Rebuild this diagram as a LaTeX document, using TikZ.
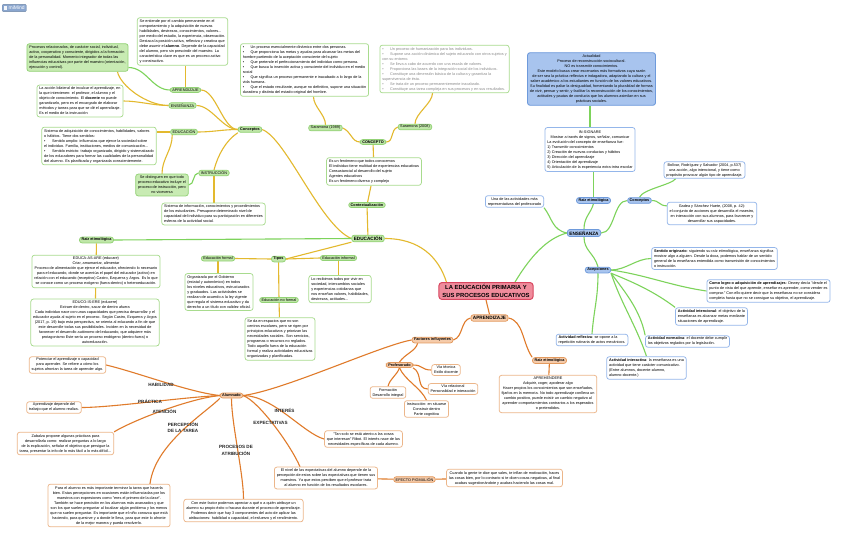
\documentclass[tikz,border=0pt]{standalone}
\usepackage{fontspec}
\setmainfont{Liberation Sans}
\usetikzlibrary{calc}
\definecolor{cYel}{HTML}{E3B92E}
\definecolor{cGrn}{HTML}{7DD35B}
\definecolor{cOrg}{HTML}{E07B2B}
\definecolor{gBd}{HTML}{A8DB8E}
\definecolor{gNd}{HTML}{93D276}
\definecolor{gNf}{HTML}{BFE6A8}
\definecolor{gFill}{HTML}{C8EBB3}
\definecolor{bBd}{HTML}{94B6EA}
\definecolor{bNd}{HTML}{6E9ADB}
\definecolor{bNf}{HTML}{A8C4EE}
\definecolor{oBd}{HTML}{ECB68A}
\definecolor{oNd}{HTML}{E39A5E}
\definecolor{oNf}{HTML}{F5CBAA}
\definecolor{mBd}{HTML}{D8465F}
\definecolor{mFl}{HTML}{F08C9C}
\definecolor{cGray}{HTML}{8A8A8A}
\definecolor{cLogo}{HTML}{8AA6CF}
\newcommand\tx{\fontsize{3.8}{5}\selectfont}
\newcommand\lbf{\fontsize{3.8}{4.4}\selectfont}
\newcommand\bigf{\fontsize{4.7}{5.4}\selectfont\bfseries}
\newcommand\mainfnt{\fontsize{5.9}{7.2}\selectfont\bfseries}
\newcommand\elf{\fontsize{4.6}{6.8}\selectfont\bfseries}
\newcommand\conn[5]{\draw[#1] (#2) .. controls ($(#2)+(#3)$) and ($(#4)+(#5)$) .. (#4);}
\newcommand\bulx{\textbullet\hspace{3.5pt}}
\pgfdeclarelayer{bg}
\pgfdeclarelayer{edges}
\pgfsetlayers{bg,edges,main}
\tikzset{
 tbox/.style={draw=gBd, fill=white, line width=0.75pt, rounded corners=2.5pt, inner xsep=2.4pt, inner ysep=2pt, font=\tx, align=left},
 gtb/.style={tbox},
 gtbf/.style={tbox, fill=gFill, draw=gNd},
 btb/.style={tbox, draw=bBd},
 otb/.style={tbox, draw=oBd},
 snode/.style={draw=gNd, fill=gNf, line width=0.75pt, rounded corners=2.5pt, inner xsep=2pt, inner ysep=1.1pt, font=\lbf},
 gsn/.style={snode},
 bsn/.style={snode, draw=bNd, fill=bNf},
 osn/.style={snode, draw=oNd, fill=oNf},
 ylw/.style={draw=cYel, line width=1.1pt},
 grn/.style={draw=cGrn, line width=1.1pt},
 org/.style={draw=cOrg, line width=1.1pt},
 elab/.style={font=\elf, align=center, inner sep=0pt, text=black!85}
}
\begin{document}
\begin{tikzpicture}[x=1pt, y=-1pt, line cap=round]
\useasboundingbox (0,0) rectangle (848,544);
\begin{pgfonlayer}{bg}
\fill[white] (0,0) rectangle (848,544);
\end{pgfonlayer}

\node[fill=cLogo, draw=cLogo!80!black, line width=0.3pt, rounded corners=1pt, text=white, font=\fontsize{5}{5.5}\selectfont, inner xsep=1.5pt, inner ysep=1.6pt, anchor=west] (logo) at (2,8) {\textcolor{white!90!cLogo}{\rule{3.5pt}{4pt}}\hspace{1.5pt}miMind};

% ---------- GREEN / EDUCACION ----------
\node[gtb] (boxA) at (182.5,41.5) {Se entiende por el cambio permanente en el\\comportamiento y la adquisición de nuevas\\habilidades, destrezas, conocimientos, valores...\\por medio del estudio, la experiencia, observación.\\Destaca la posición activa, reflexiva y creativa que\\debe asumir el \textbf{alumno}. Depende de la capacidad\\del alumno, pero sin prescindir del maestro. La\\característica clave es que es un proceso activo\\y constructivo.};
\node[gtbf] (boxB) at (77.5,57.5) {Procesos relacionados, de carácter social, individual,\\activo, cooperativo y consciente, dirigidos a la formación\\de la personalidad. Momento integrador de todas las\\influencias educativas por parte del maestro (orientación,\\ejecución y control).};
\node[gsn] (aprG) at (185.5,90) {APRENDIZAJE};
\node[gsn] (ensG) at (182.5,105.5) {ENSEÑANZA};
\node[gtb] (boxC) at (80,101) {La acción bilateral de inculcar el aprendizaje, en\\la que intervienen: el profesor, el alumno y el\\objeto de conocimiento. El \textbf{docente} no puede\\garantizarlo, pero es el encargado de elaborar\\métodos y tareas para que se dé el aprendizaje.\\Es el medio de la instrucción};
\node[gsn] (eduG) at (184,132) {EDUCACIÓN};
\node[gtb] (boxD) at (99,146) {Sistema de adquisición de conocimientos, habilidades, valores\\o hábitos. Tiene dos sentidos:\\\bulx\hspace{3pt}Sentido amplio: influencias que ejerce la sociedad sobre\\el individuo. Familia, instituciones, medios de comunicación...\\\bulx\hspace{3pt}Sentido estricto: trabajo organizado, dirigido y sistematizado\\de los educadores para formar las cualidades de la personalidad\\del alumno. Es planificada y organizada conscientemente.};
\node[gsn, font=\lbf\bfseries] (concG) at (250,129.5) {Conceptos};
\node[gsn] (instr) at (214,173) {INSTRUCCIÓN};
\node[gtbf, align=center] (boxE) at (162,185) {Se distinguen en que todo\\proceso educativo incluye el\\proceso de instrucción, pero\\no viceversa};
\node[gtb] (boxF) at (213.5,214) {Sistema de información, conocimientos y procedimientos\\de los estudiantes. Presupone determinado nivel de\\capacidad del individuo para su participación en diferentes\\esferas de la actividad social.};
\node[gsn, font=\lbf\bfseries] (raizG) at (96.5,240) {Raíz etimológica};
\node[gtb, align=center] (boxG) at (96,271.5) {EDUCA-AS-ARE (educare)\\Criar, amamantar, alimentar\\Proceso de alimentación que ejerce el educador, ofreciendo lo necesario\\para el educando, donde se acentúa el papel del educador (activo) en\\relación con el educando (receptivo) Castro, Ezquerra y Argos. Es lo que\\se conoce como un proceso exógeno (fuera-dentro) o heteroeducación.};
\node[gtb, align=center] (boxH) at (95,322.5) {EDUCO-IS-ERE (educere)\\Extraer de dentro, sacar de dentro afuera\\Cada individuo nace con unas capacidades que precisa desarrollar y el\\educador ayuda al sujeto en el proceso. Según Castro, Ezquerra y Argos\\(2017, p. 19) bajo esta perspectiva, se orienta al educando a fin de que\\este desarrolle todas sus posibilidades. Inciden en la necesidad de\\favorecer el desarrollo autónomo del educando, que adquiere más\\protagonismo Este sería un proceso endógeno (dentro-fuera) o\\autoeducación.};
\node[gsn, font=\bigf, inner ysep=1.2pt] (edu) at (368,238.5) {EDUCACIÓN};
\node[gsn, font=\lbf\bfseries] (ctx) at (367,205) {Contextualización};
\node[gtb] (boxI) at (374,171.5) {Es un fenómeno que todos conocemos\\El individuo tiene multitud de experiencias educativas\\Consustancial al desarrollo del sujeto\\Agentes educativos\\Es un fenómeno diverso y complejo};
\node[gsn, font=\lbf\bfseries] (concepto) at (373,142) {CONCEPTO};
\node[gsn] (sar89) at (325.5,128) {Saramona (1989)};
\node[gsn] (sar08) at (415,127) {Saramona (2008)};
\node[gtb] (boxJ) at (304.5,70) {\bulx\hspace{3pt}Un proceso esencialmente dinámico entre dos personas.\\\bulx\hspace{3pt}Que proporciona las metas y ayudas para alcanzar las metas del\\hombre partiendo de la aceptación consciente del sujeto\\\bulx\hspace{3pt}Que pretende el perfeccionamiento del individuo como persona.\\\bulx\hspace{3pt}Que busca la inserción activa y consciente del individuo en el medio\\social\\\bulx\hspace{3pt}Que significa un proceso permanente e inacabado a lo largo de la\\vida humana.\\\bulx\hspace{3pt}Que el estado resultante, aunque no definitivo, supone una situación\\duradera y distinta del estado original del hombre.};
\node[gtb, text=cGray] (boxK) at (444.5,69) {\bulx\hspace{3pt}Un proceso de humanización para los individuos.\\\bulx\hspace{3pt}Supone una acción dinámica del sujeto educando con otros sujetos y\\con su entorno.\\\bulx\hspace{3pt}Se lleva a cabo de acuerdo con una escala de valores.\\\bulx\hspace{3pt}Proporciona las bases de la integración social de los individuos.\\\bulx\hspace{3pt}Constituye una dimensión básica de la cultura y garantiza la\\supervivencia de ésta.\\\bulx\hspace{3pt}Se trata de un proceso permanentemente inacabado.\\\bulx\hspace{3pt}Constituye una tarea compleja en sus procesos y en sus resultados.};
\node[gsn, font=\lbf\bfseries] (tipos) at (278.5,259) {Tipos};
\node[gsn] (edF) at (218,258.5) {Educación formal};
\node[gsn] (edI) at (338.5,258) {Educación informal};
\node[gtb] (boxL) at (219,292) {Organizada por el Gobierno\\(estatal y autonómico) en todos\\los niveles educativos, estructurados\\y graduados. Las actividades se\\realizan de acuerdo a la ley vigente\\que regula el sistema educativo y da\\derecho a un título con validez oficial.};
\node[gtb] (boxM) at (340,289) {Lo recibimos todos por vivir en\\sociedad, intercambios sociales\\y experiencias cotidianas que\\nos enseñan valores, habilidades,\\destrezas, actitudes...};
\node[gsn] (edNF) at (279,300) {Educación no formal};
\node[gtb] (boxN) at (280,339) {Se da en espacios que no son\\centros escolares, pero se rigen por\\principios educativos y priorizan las\\necesidades sociales. Son servicios,\\programas o recursos no reglados.\\Todo aquello fuera de la educación\\formal y realiza actividades educativas\\organizadas y planificadas.};

% ---------- MAIN ----------
\node[draw=mBd, fill=mFl, line width=1pt, rounded corners=3pt, font=\mainfnt, align=center, inner xsep=3.5pt, inner ysep=2.2pt] (main) at (486,291) {LA EDUCACIÓN PRIMARIA Y\\SUS PROCESOS EDUCATIVOS};

% ---------- BLUE / ENSENANZA ----------
\node[bsn, font=\bigf, inner ysep=1.4pt] (ensB) at (584,233) {ENSEÑANZA};
\node[btb, align=center, inner ysep=1.5pt] (una) at (514.5,201.5) {Una de las actividades más\\representativas del profesorado};
\node[bsn, font=\lbf\bfseries] (raizB) at (593.5,200.5) {Raíz etimológica};
\node[bsn, font=\lbf\bfseries] (concB) at (639.5,200.5) {Conceptos};
\node[bsn, font=\lbf\bfseries] (acep) at (598,270) {Acepciones};
\node[tbox, draw=bNd, fill=bNf, align=center, line width=0.9pt] (actual) at (591.5,79) {Actualidad\\Proceso de reconstrucción sociocultural.\\NO es transmitir conocimientos.\\Este modelo busca crear escenarios más formativos cuya razón\\de ser sea la práctica reflexiva e indagadora, adaptando la cultura y el\\saber académico a los estudiantes en función de los valores educativos.\\Su finalidad es paliar la desigualdad, fomentando la pluralidad de formas\\de vivir, pensar y sentir, y facilitar la reconstrucción de los conocimientos,\\actitudes y pautas de conducta que los alumnos asimilan en sus\\prácticas sociales.};
\node[btb] (insig) at (590,149.5) {\begin{tabular}{@{}l@{}}\multicolumn{1}{@{}c@{}}{IN-SIGNARE}\\\multicolumn{1}{@{}c@{}}{Mostrar a través de signos, señalar, comunicar}\\La evolución del concepto de enseñanza fue:\\1) Transmitir conocimientos\\2) Creación de nuevas conductas y hábitos\\3) Dirección del aprendizaje\\4) Orientación del aprendizaje\\5) Articulación de la experiencia extra-intra escolar\end{tabular}};
\node[btb, align=center, inner ysep=1.5pt] (bol) at (704.5,170) {Bolívar, Rodríguez y Salvador (2004, p.537)\\una acción, algo intencional, y tiene como\\propósito provocar algún tipo de aprendizaje.};
\node[btb, align=center] (gadea) at (712,213.5) {Gadea y Sánchez Huete, (2008, p. 42):\\el conjunto de acciones que desarrolla el maestro,\\en interacción con sus alumnos, para favorecer y\\desarrollar sus capacidades.};
\node[btb] (sen) at (714.5,258.5) {\textbf{Sentido originario}: siguiendo su raíz etimológica, enseñanza significa\\mostrar algo a alguien. Desde la doxa, podemos hablar de un sentido\\general de la enseñanza entendida como transmisión de conocimientos\\o instrucción.};
\node[btb] (logro) at (768.5,291) {\textbf{Como logro o adquisición de aprendizajes}: Dewey decía "desde el\\punto de vista del que aprende, enseñar es aprender, como vender es\\comprar." Con ello quiere decir que la enseñanza no se considera\\completa hasta que no se consigue su objetivo, el aprendizaje.};
\node[btb] (intenc) at (711.5,316.5) {\textbf{Actividad intencional}: el objetivo de la\\enseñanza es alcanzar metas mediante\\situaciones de aprendizaje.};
\node[btb, inner ysep=1.5pt] (normat) at (687.5,341.5) {\textbf{Actividad normativa}: el docente debe cumplir\\los objetivos reglados por la legislación.};
\node[btb, inner ysep=1.5pt] (reflex) at (592,340) {\textbf{Actividad reflexiva}: se opone a la\\repetición rutinaria de actos mecánicos.};
\node[btb] (interac) at (646.5,368) {\textbf{Actividad interactiva}: la enseñanza es una\\actividad que tiene carácter comunicativo.\\(Entre alumnos, docente-alumno,\\alumno-docente.)};

% ---------- ORANGE / APRENDIZAJE ----------
\node[osn, font=\bigf, inner ysep=1.6pt] (aprO) at (489.5,318) {APRENDIZAJE};
\node[osn, font=\lbf\bfseries] (fact) at (432.5,340) {Factores influyentes};
\node[osn, font=\lbf\bfseries] (raizO) at (549.5,360.5) {Raíz etimológica};
\node[otb, align=center] (aprehen) at (548,394) {APREHENDERE\\Adquirir, coger, apoderar algo\\Hacer propios los conocimientos que son enseñados,\\fijarlos en la memoria. No todo aprendizaje conlleva un\\cambio positivo, puede existir un cambio negativo al\\aprender comportamientos contrarios a los esperados\\o pretendidos.};
\node[osn, font=\lbf\bfseries] (prof) at (399.5,365) {Profesorado};
\node[otb, align=center, inner ysep=1.5pt] (form) at (388,392.5) {Formación\\Desarrollo integral};
\node[otb, align=center, inner ysep=1.5pt] (vtec) at (446,370) {Vía técnica\\Estilo docente};
\node[otb, align=center, inner ysep=1.5pt] (vrel) at (453,389) {Vía relacional\\Personalidad e interacción};
\node[otb, align=center, inner ysep=1.5pt] (instB) at (426.5,409) {Instrucción: en situarse\\Construir dentro\\Parte cognitiva};
\node[osn, font=\lbf\bfseries] (alum) at (231.5,395.5) {Alumnado};
\node[otb, align=center, inner ysep=1.5pt] (poten) at (67.5,365) {Potenciar el aprendizaje o capacidad\\para aprender. Se refiere a cómo los\\sujetos afrontan la tarea de aprender algo.};
\node[otb, align=center, inner ysep=1.5pt] (aprdep) at (54,407.5) {Aprendizaje depende del\\trabajo que el alumno realiza.};
\node[otb, align=center] (zab) at (65.5,443.5) {Zabalza propone algunas prácticas para\\desarrollarla como: realizar preguntas a lo largo\\de la explicación, señalar el objetivo que persigue la\\tarea, presentar la info de lo más fácil a lo más difícil...};
\node[otb, align=center] (para) at (109,505.5) {Para el alumno es más importante terminar la tarea que hacerla\\bien. Estas percepciones en ocasiones están influenciadas por los\\maestros con expresiones como "eres el primero de la clase".\\También se hace precisión en los alumnos más avanzados y que\\son los que suelen preguntar al localizar algún problema y los menos\\que no suelen preguntar. Es importante que el niño conozca que está\\haciendo, para quesirve y a donde le lleva, para que este lo afronte\\de la mejor manera y pueda resolverlo.};
\node[otb, align=center] (conest) at (243.5,510.5) {Con este factor podemos apreciar a qué o a quién atribuye un\\alumno su propio éxito o fracaso durante el proceso de aprendizaje.\\Podemos decir que hay 3 componentes del acto de aplicar las\\atribuciones: habilidad o capacidad, el esfuerzo y el rendimiento.};
\node[otb, align=center, inner ysep=1.5pt] (tans) at (363.5,439) {"Tan solo se está atento a las cosas\\que interesan" Ribot. El interés nace de las\\necesidades específicas de cada alumno.};
\node[otb, align=center] (nivel) at (326,478) {El nivel de las expectativas del alumno depende de la\\percepción de estos sobre las expectativas que tienen sus\\maestros. Ya que estos perciben que el profesor trata\\al alumno en función de los resultados escolares.};
\node[osn] (efecto) at (414.5,479.5) {EFECTO PIGMALIÓN};
\node[otb, align=center] (cuando) at (504.5,478) {Cuando la gente te dice que vales, te inflan de motivación, haces\\las cosas bien, por lo contrario si te dicen cosas negativas, al final\\acabas sugestionándote y acabas haciendo las cosas mal.};

% ---------- helper coordinates ----------
\coordinate (jB) at ($(boxJ.south)+(9,0)$);
\coordinate (kB) at ($(boxK.south)+(-12,0)$);
\coordinate (bBs) at ($(boxB.south east)+(-11,0)$);
\coordinate (bBe) at ($(boxB.east)+(0,10)$);
\coordinate (bolS) at ($(bol.south west)+(12,0)$);
\coordinate (gaW) at ($(gadea.north west)+(0,4)$);
\coordinate (paraT) at ($(para.north)+(41,0)$);
\coordinate (nivT) at ($(nivel.north west)+(26,0)$);
\coordinate (factSW) at ($(fact.south west)+(6,0)$);
\coordinate (mainNE) at ($(main.north)+(29,0)$);
\coordinate (mainNW) at ($(main.north west)+(8,0)$);
\coordinate (eduGsw) at ($(eduG.south west)+(2,0)$);

\begin{pgfonlayer}{edges}
% yellow
\conn{ylw}{edu.east}{35,0}{mainNW}{-8,-25}
\conn{ylw}{concG.east}{24,9}{edu.west}{-31,-13}
\draw[ylw] (edu) -- (ctx);
\draw[ylw] (ctx) -- (boxI);
\draw[ylw] (boxI) -- (concepto);
\conn{ylw}{concepto.west}{-8,0}{sar89.east}{8,3}
\conn{ylw}{concepto.east}{8,0}{sar08.west}{-8,3}
\conn{ylw}{sar89.north}{0,-10}{jB}{0,10}
\conn{ylw}{sar08.north}{0,-10}{kB}{0,10}
\draw[grn] (edu.west) -- (raizG.east);
\draw[ylw] (raizG) -- (boxG);
\draw[ylw] (boxG) -- (boxH);
\draw[ylw] (edu.south west) -- (tipos.east);
\draw[ylw] (tipos.west) -- (edF.east);
\draw[ylw] (tipos.east) -- (edI.west);
\draw[ylw] (tipos) -- (edNF);
\draw[ylw] (edF.south) -- (edF.south |- boxL.north);
\draw[ylw] (edI.south) -- (edI.south |- boxM.north);
\draw[ylw] (edNF) -- (boxN);
\conn{ylw}{concG.west}{-15,0}{aprG.east}{15,0}
\conn{ylw}{concG.west}{-15,0}{ensG.east}{15,0}
\conn{ylw}{concG.west}{-15,0}{eduG.east}{15,0}
\conn{ylw}{concG.south west}{-12,8}{instr.north}{4,-15}
\draw[ylw] (aprG.north) -- (aprG.north |- boxA.south);
\conn{ylw}{ensG.west}{-22,0}{bBs}{3,14}
\conn{ylw}{ensG.west}{-15,0}{boxC.east}{15,0}
\draw[ylw] (eduG.west) -- (boxD.east |- eduG.west);
\conn{ylw}{eduGsw}{0,15}{boxE.north}{0,-15}
\draw[ylw] (instr.south) -- (instr.south |- boxF.north);
\conn{grn}{bBe}{18,0}{aprG.west}{-18,0}
\conn{grn}{boxE.east}{6,0}{instr.west}{-6,0}
% green (ensenanza)
\conn{grn}{mainNE}{15,-25}{ensB.west}{-20,5}
\conn{grn}{ensB.west}{-15,-3}{una.south east}{8,10}
\conn{grn}{ensB.north}{0,-12}{raizB.south}{-3,10}
\draw[grn] (raizB.north) -- (raizB.north |- insig.south);
\draw[grn] (insig.north) -- (insig.north |- actual.south);
\conn{grn}{ensB.east}{14,0}{concB.west}{-14,0}
\conn{grn}{concB.north}{3,-8}{bolS}{-4,6}
\conn{grn}{concB.east}{8,0}{gaW}{-8,0}
\conn{grn}{ensB.south}{0,14}{acep.north}{-4,-14}
\conn{grn}{acep.east}{15,0}{sen.west}{-15,0}
\conn{grn}{acep.east}{35,5}{logro.west}{-35,-5}
\conn{grn}{acep.south east}{25,10}{intenc.north west}{-20,-15}
\conn{grn}{acep.south east}{15,20}{normat.north west}{-5,-25}
\conn{grn}{acep.south}{0,25}{reflex.north}{2,-25}
\conn{grn}{acep.south east}{10,30}{interac.north}{-10,-30}
% orange
\draw[org] (main.south) -- (aprO.north);
\conn{org}{aprO.west}{-10,2}{fact.east}{10,-3}
\conn{org}{aprO.east}{15,3}{raizO.north west}{-10,-15}
\draw[org] (raizO) -- (aprehen);
\conn{org}{factSW}{-2,8}{prof.north}{5,-8}
\conn{org}{fact.west}{-30,5}{alum.east}{40,-5}
\conn{org}{prof.south}{-3,8}{form.north}{2,-8}
\conn{org}{prof.east}{10,0}{vtec.west}{-10,0}
\conn{org}{prof.south east}{10,5}{vrel.west}{-12,0}
\conn{org}{prof.south}{5,12}{instB.north}{-5,-12}
\conn{org}{alum.west}{-30,-3}{poten.east}{30,7}
\conn{org}{alum.west}{-40,2}{aprdep.east}{30,0}
\conn{org}{alum.west}{-30,3}{zab.north east}{20,-12}
\conn{org}{alum.south west}{-15,15}{paraT}{5,-40}
\conn{org}{alum.south}{0,25}{conest.north}{0,-25}
\conn{org}{alum.east}{30,0}{tans.west}{-20,-5}
\conn{org}{alum.east}{16,6}{nivT}{-9,-21}
\draw[org] (nivel) -- (efecto);
\draw[org] (efecto) -- (cuando);
\end{pgfonlayer}

% edge labels
\node[elab] (lHab) at (161,385) {HABILIDAD};
\node[elab] (lPra) at (150,401) {PRÁCTICA};
\node[elab] (lAte) at (164.5,411) {ATENCIÓN};
\node[elab] (lPer) at (183,427.5) {PERCEPCIÓN\\DE LA TAREA};
\node[elab] (lInt) at (284.5,410) {INTERÉS};
\node[elab] (lExp) at (270.5,423) {EXPECTATIVAS};
\node[elab] (lAtr) at (236,450.5) {PROCESOS DE\\ATRIBUCIÓN};
\end{tikzpicture}
\end{document}
